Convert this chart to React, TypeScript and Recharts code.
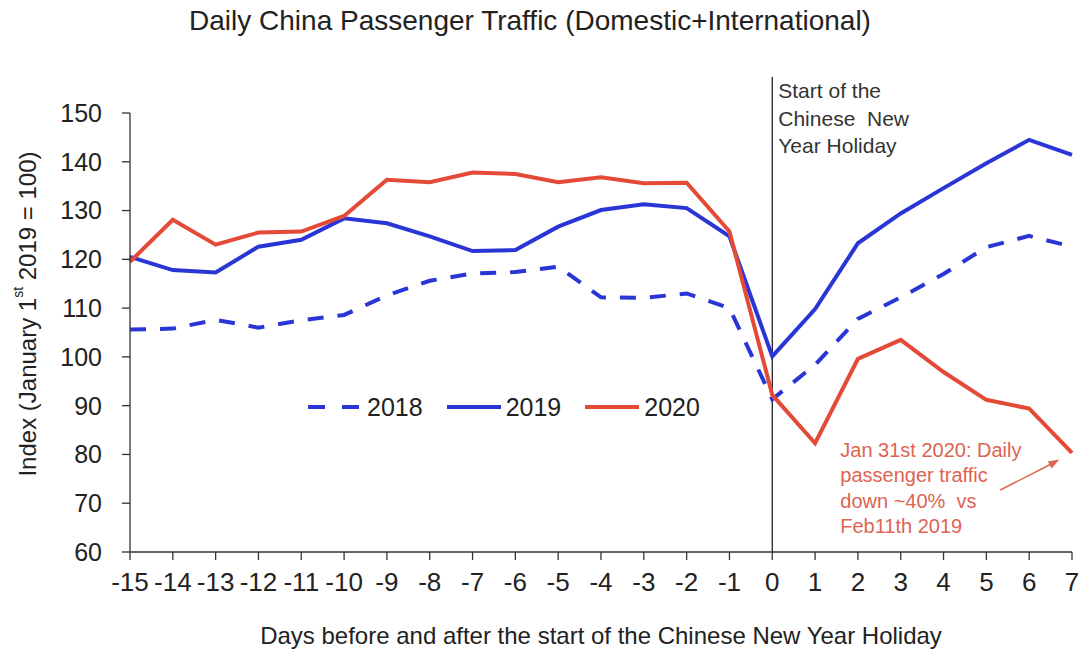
import React from 'react';
import { LineChart, Line, XAxis, YAxis, ReferenceLine, Legend } from 'recharts';

// ---- data ----
const days = [-15, -14, -13, -12, -11, -10, -9, -8, -7, -6, -5, -4, -3, -2, -1, 0, 1, 2, 3, 4, 5, 6, 7];
const values2018 = [105.6, 105.8, 107.6, 106.0, 107.5, 108.6, 112.6, 115.6, 117.1, 117.4, 118.5, 112.2, 112.1, 113.0, 110.0, 91.3, 98.4, 107.8, 112.2, 117.0, 122.5, 124.8, 122.6];
const values2019 = [120.5, 117.8, 117.3, 122.6, 124.0, 128.4, 127.4, 124.7, 121.7, 121.9, 126.7, 130.1, 131.3, 130.5, 124.7, 100.1, 109.8, 123.3, 129.4, 134.6, 139.7, 144.5, 141.4];
const values2020 = [119.5, 128.1, 123.0, 125.5, 125.7, 128.9, 136.3, 135.8, 137.8, 137.5, 135.8, 136.8, 135.6, 135.7, 125.7, 92.2, 82.3, 99.6, 103.5, 96.9, 91.2, 89.4, 80.3];
const yTicks = [60, 70, 80, 90, 100, 110, 120, 130, 140, 150];
const seriesNames = ['2018', '2019', '2020'];

const titleText = 'Daily China Passenger Traffic (Domestic+International)';
const xAxisTitle = 'Days before and after the start of the Chinese New Year Holiday';
const holidayLines = ['Start of the', 'Chinese  New', 'Year Holiday'];
const noteLines = ['Jan 31st 2020: Daily', 'passenger traffic', 'down ~40%  vs', 'Feb11th 2019'];

const data = days.map((d, i) => ({
  day: d,
  y2018: values2018[i],
  y2019: values2019[i],
  y2020: values2020[i],
}));

// ---- styles ----
const FONT = '"Liberation Sans", Arial, Helvetica, sans-serif';
const BLUE = '#2a35d6';
const RED = '#e34b38';
const NOTE_RED = '#de6352';
const DASH = '16 14';

const seriesStyle: Record<string, { color: string; dash?: string }> = {
  y2018: { color: BLUE, dash: DASH },
  y2019: { color: BLUE },
  y2020: { color: RED },
};

const renderLegend = (props: any) => {
  const payload = props.payload || [];
  return (
    <div style={{ display: 'flex', alignItems: 'center', fontFamily: FONT, fontSize: 25, color: '#222', lineHeight: '30px' }}>
      {payload.map((entry: any, i: number) => {
        const st = seriesStyle[entry.dataKey] || { color: entry.color };
        return (
          <div key={i} style={{ display: 'flex', alignItems: 'center', marginRight: 24 }}>
            <svg width={54} height={10} style={{ marginRight: 5 }}>
              <line x1={0} y1={5} x2={54} y2={5} stroke={st.color} strokeWidth={4} strokeDasharray={st.dash ? '17 17' : undefined} />
            </svg>
            <span>{entry.value}</span>
          </div>
        );
      })}
    </div>
  );
};

const renderHolidayLabel = (props: any) => {
  const vb = props.viewBox || {};
  const vx = vb.x;
  const top = vb.y;
  return (
    <g>
      <line x1={vx} y1={top - 36} x2={vx} y2={top} stroke="#111" strokeWidth={1.2} />
      <text x={vx + 6} y={98} fontFamily={FONT} fontSize={21} fill="#333">
        {holidayLines.map((t, i) => (
          <tspan key={i} x={vx + 6} y={98 + i * 27.5} style={{ whiteSpace: 'pre' }}>{t}</tspan>
        ))}
      </text>
      <text fontFamily={FONT} fontSize={20} fill={NOTE_RED}>
        {noteLines.map((t, i) => (
          <tspan key={i} x={vx + 68} y={457 + i * 25.3} style={{ whiteSpace: 'pre' }}>{t}</tspan>
        ))}
      </text>
      <line x1={vx + 228} y1={490} x2={vx + 280} y2={463.5} stroke={NOTE_RED} strokeWidth={1.5} />
      <polygon
        points={`${vx + 287},${459.5} ${vx + 275.5},${461.5} ${vx + 279.5},${468.5}`}
        fill={NOTE_RED}
      />
    </g>
  );
};

const renderYLabel = () => {
  const cx = 27;
  const cy = 314;
  return (
    <text
      x={cx}
      y={cy}
      transform={`rotate(-90, ${cx}, ${cy})`}
      textAnchor="middle"
      dominantBaseline="central"
      fontFamily={FONT}
      fontSize={24}
      fill="#222"
    >
      Index (January 1
      <tspan fontSize={14} dy={-9}>st</tspan>
      <tspan dy={9}> 2019 = 100)</tspan>
    </text>
  );
};

export default function App() {
  return (
    <div style={{ position: 'absolute', left: 0, top: 0, background: '#fff' }}>
      <LineChart
        width={1085}
        height={649}
        data={data}
        margin={{ top: 113, right: 13, bottom: 0, left: 0 }}
        style={{ fontFamily: FONT }}
      >
        <text x={530} y={30} textAnchor="middle" fontFamily={FONT} fontSize={28} fill="#222">
          {titleText}
        </text>
        <XAxis
          dataKey="day"
          type="number"
          domain={[-15, 7]}
          ticks={days}
          interval={0}
          height={97}
          tickSize={8}
          tickMargin={13}
          axisLine={{ stroke: '#333', strokeWidth: 1.3 }}
          tickLine={{ stroke: '#333', strokeWidth: 1.3 }}
          tick={{ fontSize: 26, fill: '#222', fontFamily: FONT }}
          label={{ value: xAxisTitle, position: 'insideBottom', offset: 5, fontSize: 24, fill: '#222', fontFamily: FONT }}
        />
        <YAxis
          type="number"
          domain={[60, 150]}
          ticks={yTicks}
          interval={0}
          width={130}
          tickSize={8}
          tickMargin={20}
          axisLine={{ stroke: '#333', strokeWidth: 1.3 }}
          tickLine={{ stroke: '#333', strokeWidth: 1.3 }}
          tick={{ fontSize: 25, fill: '#222', fontFamily: FONT }}
          label={renderYLabel}
        />
        <ReferenceLine x={0} stroke="#111" strokeWidth={1.2} label={renderHolidayLabel} ifOverflow="visible" />
        <Legend
          layout="horizontal"
          verticalAlign="middle"
          align="center"
          content={renderLegend}
          wrapperStyle={{ position: 'absolute', left: 308, top: 392, width: 'auto', height: 30 }}
        />
        <Line
          type="linear"
          dataKey="y2018"
          name={seriesNames[0]}
          stroke={BLUE}
          strokeWidth={4}
          strokeDasharray={DASH}
          dot={false}
          activeDot={false}
          isAnimationActive={false}
        />
        <Line
          type="linear"
          dataKey="y2019"
          name={seriesNames[1]}
          stroke={BLUE}
          strokeWidth={4}
          dot={false}
          activeDot={false}
          isAnimationActive={false}
        />
        <Line
          type="linear"
          dataKey="y2020"
          name={seriesNames[2]}
          stroke={RED}
          strokeWidth={4}
          dot={false}
          activeDot={false}
          isAnimationActive={false}
        />
      </LineChart>
    </div>
  );
}
